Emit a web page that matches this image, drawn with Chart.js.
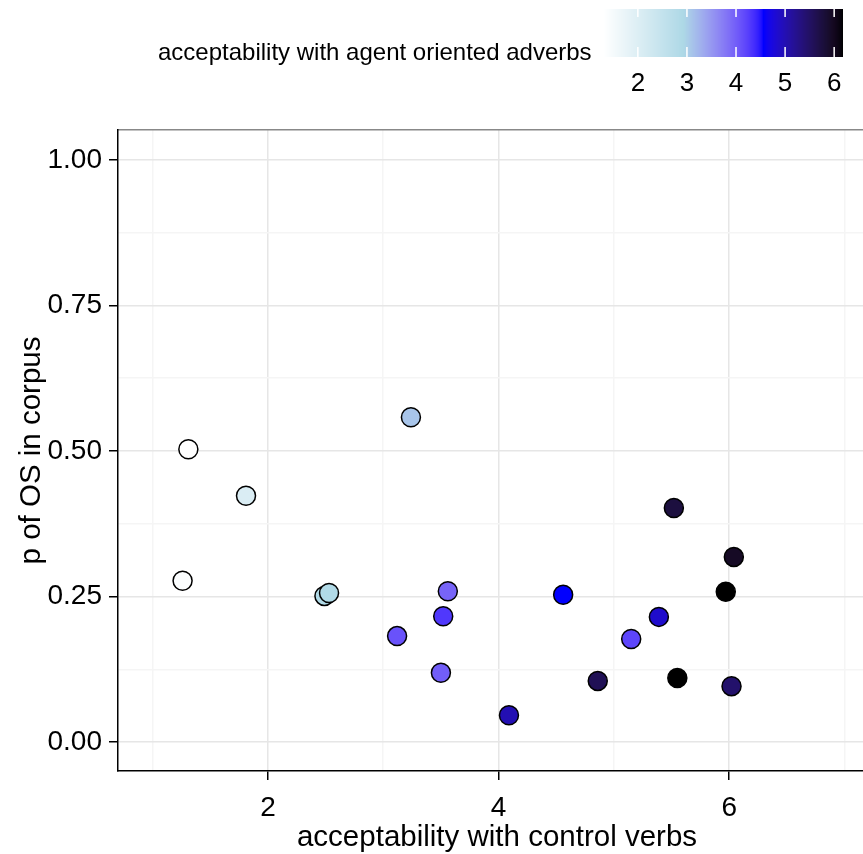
<!DOCTYPE html>
<html>
<head>
<meta charset="utf-8">
<script src="https://cdn.jsdelivr.net/npm/chart.js@4/dist/chart.umd.min.js"></script>
<style>
  html, body { margin: 0; padding: 0; background: #fff; }
  #wrap { width: 863px; height: 854px; }
</style>
</head>
<body>
<div id="wrap"><canvas id="chart" width="863" height="854"></canvas></div>
<script>
// acceptability with control verbs
const controlVerbs = [1.31, 1.26, 1.81, 2.49, 2.53, 3.24, 3.12, 3.50, 3.52, 3.56,
                      4.09, 4.56, 4.86, 5.15, 5.39, 5.52, 5.55, 5.97, 6.04, 6.02];
// p of OS in corpus
const pOS = [0.503, 0.277, 0.423, 0.251, 0.256, 0.558, 0.182, 0.119, 0.216, 0.259,
             0.046, 0.253, 0.105, 0.177, 0.215, 0.402, 0.110, 0.258, 0.318, 0.096];
// acceptability with agent oriented adverbs (fill colour)
const agentAdverbs = [1.31, 1.40, 2.05, 2.85, 2.85, 3.10, 4.10, 4.00, 4.30, 3.95,
                      5.00, 4.56, 5.60, 4.20, 4.85, 5.75, 6.18, 6.18, 5.95, 5.45];

const xMajor = [2, 4, 6];
const xGrid = [1, 2, 3, 4, 5, 6, 7];
const yMajor = [0, 0.25, 0.5, 0.75, 1];
const yGrid = [0, 0.125, 0.25, 0.375, 0.5, 0.625, 0.75, 0.875, 1];
const legendTicks = [2, 3, 4, 5, 6];
const gradientColours = ["#FFFFFF", "#ADD8E6", "#0000FF", "#000000"];

const zMin = Math.min(...agentAdverbs);
const zMax = Math.max(...agentAdverbs);

// --- colour helpers (Lab interpolation like ggplot) ---
function hexToRgb(h) {
  return [1, 3, 5].map(i => parseInt(h.slice(i, i + 2), 16));
}
function toLin(c) { c /= 255; return c <= 0.04045 ? c / 12.92 : Math.pow((c + 0.055) / 1.055, 2.4); }
function fromLin(c) {
  const v = c <= 0.0031308 ? 12.92 * c : 1.055 * Math.pow(c, 1 / 2.4) - 0.055;
  return Math.round(Math.min(1, Math.max(0, v)) * 255);
}
function rgbToLab(rgb) {
  const [r, g, b] = rgb.map(toLin);
  const X = (0.4124 * r + 0.3576 * g + 0.1805 * b) / 0.95047;
  const Y = 0.2126 * r + 0.7152 * g + 0.0722 * b;
  const Z = (0.0193 * r + 0.1192 * g + 0.9505 * b) / 1.08883;
  const f = t => t > 0.008856 ? Math.cbrt(t) : 7.787 * t + 16 / 116;
  const fx = f(X), fy = f(Y), fz = f(Z);
  return [116 * fy - 16, 500 * (fx - fy), 200 * (fy - fz)];
}
function labToRgb(lab) {
  const [L, a, b] = lab;
  const fy = (L + 16) / 116, fx = fy + a / 500, fz = fy - b / 200;
  const inv = t => t * t * t > 0.008856 ? t * t * t : (t - 16 / 116) / 7.787;
  const X = inv(fx) * 0.95047, Y = inv(fy), Z = inv(fz) * 1.08883;
  const r = 3.2406 * X - 1.5372 * Y - 0.4986 * Z;
  const g = -0.9689 * X + 1.8758 * Y + 0.0415 * Z;
  const bb = 0.0557 * X - 0.2040 * Y + 1.0570 * Z;
  return [fromLin(r), fromLin(g), fromLin(bb)];
}
const labStops = gradientColours.map(c => rgbToLab(hexToRgb(c)));
function colourFor(z) {
  let t = (z - zMin) / (zMax - zMin);
  t = Math.min(1, Math.max(0, t)) * (labStops.length - 1);
  const i = Math.min(labStops.length - 2, Math.floor(t));
  const f = t - i;
  const lab = labStops[i].map((v, k) => v + (labStops[i + 1][k] - v) * f);
  const [r, g, b] = labToRgb(lab);
  return `rgb(${r},${g},${b})`;
}

const points = controlVerbs.map((x, i) => ({ x: x, y: pOS[i] }));
const fills = agentAdverbs.map(colourFor);

const FONT = "'Liberation Sans', Arial, sans-serif";

// colour bar legend at top, plus the x axis title
const colourBar = {
  id: "colourBar",
  afterDraw(chart) {
    const ctx = chart.ctx;
    const x0 = 604, x1 = 843, y0 = 9, y1 = 57;
    for (let px = x0; px < x1; px++) {
      const z = zMin + (px + 0.5 - x0) / (x1 - x0) * (zMax - zMin);
      ctx.fillStyle = colourFor(z);
      ctx.fillRect(px, y0, 1, y1 - y0);
    }
    ctx.save();
    ctx.strokeStyle = "#ffffff";
    ctx.lineWidth = 1.5;
    ctx.fillStyle = "#000";
    ctx.font = "26px " + FONT;
    ctx.textAlign = "center";
    ctx.textBaseline = "middle";
    legendTicks.forEach(v => {
      const px = x0 + (v - zMin) / (zMax - zMin) * (x1 - x0);
      ctx.beginPath();
      ctx.moveTo(px, y0); ctx.lineTo(px, y0 + 8);
      ctx.moveTo(px, y1 - 10); ctx.lineTo(px, y1);
      ctx.stroke();
      ctx.fillText(String(v), px, 84);
    });
    ctx.font = "24px " + FONT;
    ctx.textAlign = "left";
    ctx.fillText("acceptability with agent oriented adverbs", 158, 53);
    ctx.font = "29.5px " + FONT;
    ctx.textAlign = "center";
    ctx.fillText("acceptability with control verbs", 497, 838);
    ctx.restore();
  }
};

new Chart(document.getElementById("chart"), {
  type: "scatter",
  data: {
    datasets: [{
      data: points,
      backgroundColor: fills,
      borderColor: "#000000",
      borderWidth: 1.5,
      pointRadius: 9.5,
      pointHoverRadius: 9.5
    }]
  },
  options: {
    responsive: false,
    animation: false,
    layout: { autoPadding: false, padding: { top: 130, right: 0, left: 0, bottom: 0 } },
    plugins: { legend: { display: false }, tooltip: { enabled: false } },
    scales: {
      x: {
        type: "linear",
        min: 0.70,
        max: 7.16,
        afterBuildTicks: s => { s.ticks = xGrid.map(v => ({ value: v })); },
        afterFit: s => { s.height = 83; s.paddingLeft = 0; s.paddingRight = 0; },
        grid: {
          color: c => xMajor.includes(c.tick.value) ? "#e6e6e6" : "#f5f5f5",
          tickColor: c => xMajor.includes(c.tick.value) ? "#000" : "rgba(0,0,0,0)",
          tickLength: 9,
          lineWidth: 1.5
        },
        border: { display: true, color: "#000", width: 1.5 },
        ticks: {
          autoSkip: false,
          maxRotation: 0,
          padding: 11,
          color: "#000",
          font: { family: FONT, size: 28 },
          callback: v => xMajor.includes(v) ? String(v) : ""
        },
        title: { display: false }
      },
      xTop: {
        type: "linear",
        position: "top",
        min: 0.70,
        max: 7.16,
        grid: { display: false, drawTicks: false },
        border: { display: true, color: "#888888", width: 1.5 },
        ticks: { display: false },
        afterFit: s => { s.height = 0; s.paddingLeft = 0; s.paddingRight = 0; }
      },
      y: {
        type: "linear",
        min: -0.0498,
        max: 1.0515,
        afterBuildTicks: s => { s.ticks = yGrid.map(v => ({ value: v })); },
        afterFit: s => { s.width = 118; s.paddingTop = 0; s.paddingBottom = 0; },
        grid: {
          color: c => yMajor.includes(c.tick.value) ? "#e6e6e6" : "#f5f5f5",
          tickColor: c => yMajor.includes(c.tick.value) ? "#000" : "rgba(0,0,0,0)",
          tickLength: 9,
          lineWidth: 1.5
        },
        border: { display: true, color: "#000", width: 1.5 },
        ticks: {
          autoSkip: false,
          padding: 7,
          color: "#000",
          font: { family: FONT, size: 28 },
          callback: v => yMajor.includes(v) ? v.toFixed(2) : ""
        },
        title: {
          display: true,
          text: "p of OS in corpus",
          color: "#000",
          font: { family: FONT, size: 29.5 },
          padding: { top: 14, bottom: 0 }
        }
      }
    }
  },
  plugins: [colourBar]
});
</script>
</body>
</html>
